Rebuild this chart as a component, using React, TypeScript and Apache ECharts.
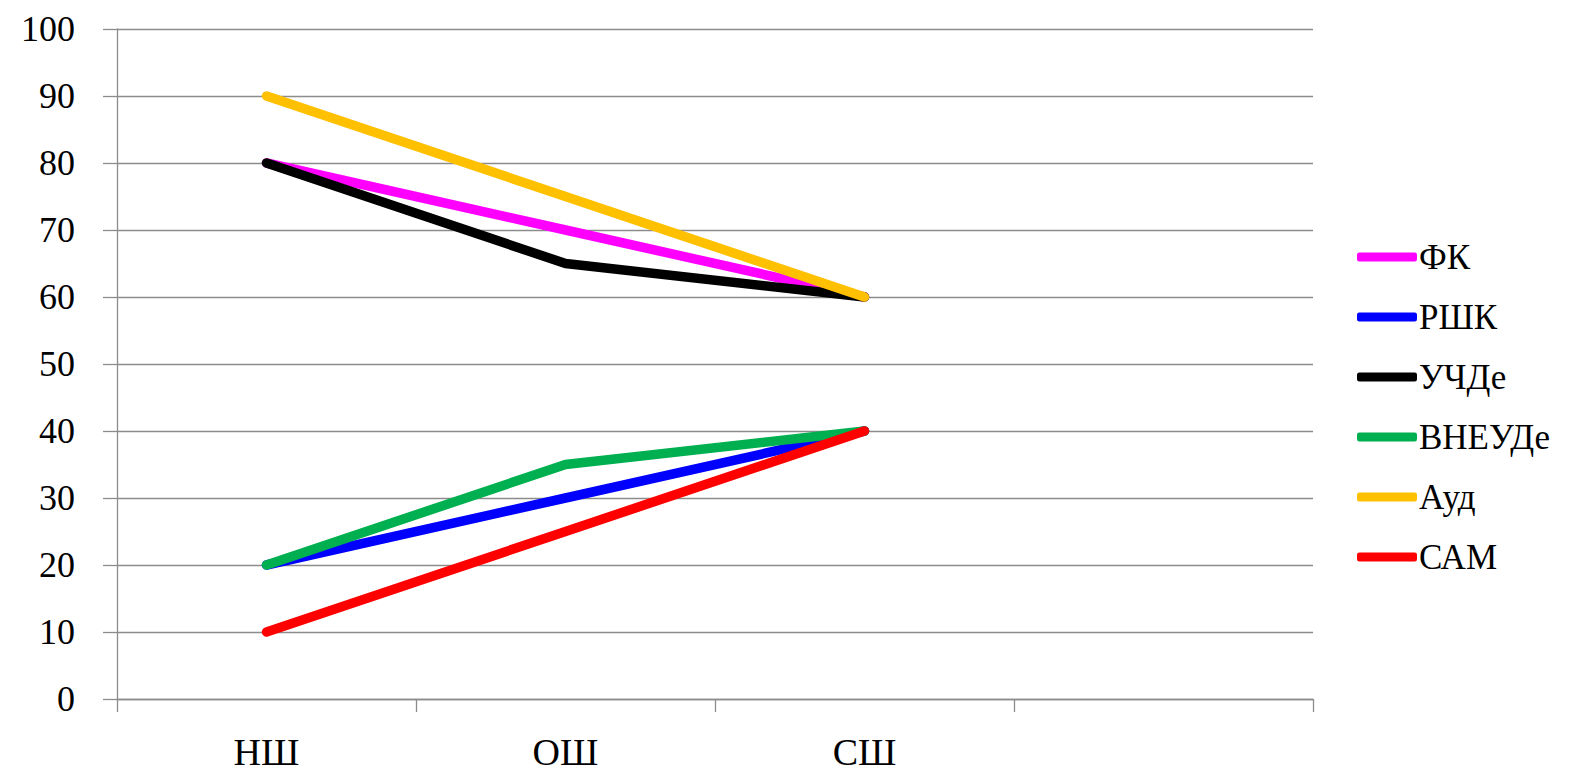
import React, { useEffect, useRef } from "react";
import * as echarts from "echarts";

const categories = ["НШ", "ОШ", "СШ", ""];
const seriesNames = ["ФК", "РШК", "УЧДе", "ВНЕУДе", "Ауд", "САМ"];
const fk = [80, 70, 60];
const rshk = [20, 30, 40];
const uchde = [80, 65, 60];
const vneude = [20, 35, 40];
const aud = [90, 75, 60];
const sam = [10, 25, 40];
const colors = ["#FF00FF", "#0000FF", "#000000", "#00B050", "#FFC000", "#FF0000"];
const yTicks = { min: 0, max: 100, interval: 10 };

const FONT = "'Liberation Serif', 'Times New Roman', serif";

export default function App() {
  const ref = useRef<HTMLDivElement>(null);
  useEffect(() => {
    if (!ref.current) return;
    const chart = echarts.init(ref.current, null, { renderer: "svg" });
    const values = [fk, rshk, uchde, vneude, aud, sam];
    chart.setOption({
      animation: false,
      backgroundColor: "#ffffff",
      grid: { left: 117, right: 277, top: 29, bottom: 77, containLabel: false },
      legend: {
        orient: "vertical",
        left: 1352,
        top: 234,
        icon: "roundRect",
        itemWidth: 60,
        itemHeight: 9,
        itemGap: 24,
        data: seriesNames,
        textStyle: {
          fontFamily: FONT,
          fontSize: 35,
          lineHeight: 36,
          color: "#000",
          padding: [0, 0, 0, -3],
        },
      },
      xAxis: {
        type: "category",
        data: categories,
        boundaryGap: true,
        axisLine: { show: true, lineStyle: { color: "#8c8c8c", width: 1.3 } },
        axisTick: { show: true, length: 13, alignWithLabel: false, interval: 0, lineStyle: { color: "#8c8c8c", width: 1.3 } },
        axisLabel: { fontFamily: FONT, fontSize: 38, lineHeight: 30, color: "#000", margin: 38, interval: 0 },
        splitLine: { show: false },
      },
      yAxis: {
        type: "value",
        min: yTicks.min,
        max: yTicks.max,
        interval: yTicks.interval,
        axisLine: { show: true, lineStyle: { color: "#8c8c8c", width: 1.3 } },
        axisTick: { show: true, length: 14, lineStyle: { color: "#8c8c8c", width: 1.3 } },
        axisLabel: { fontFamily: FONT, fontSize: 36, color: "#000", margin: 42 },
        splitLine: { show: true, lineStyle: { color: "#8c8c8c", width: 1.3 } },
      },
      series: seriesNames.map((name, i) => ({
        name,
        type: "line",
        data: values[i],
        symbol: "none",
        color: colors[i],
        lineStyle: { color: colors[i], width: 9.5, cap: "round", join: "round" },
        itemStyle: { color: colors[i] },
      })),
    });
    return () => chart.dispose();
  }, []);
  return (
    <div
      ref={ref}
      style={{ position: "fixed", left: 0, top: 0, width: 1590, height: 776, background: "#fff" }}
    />
  );
}
